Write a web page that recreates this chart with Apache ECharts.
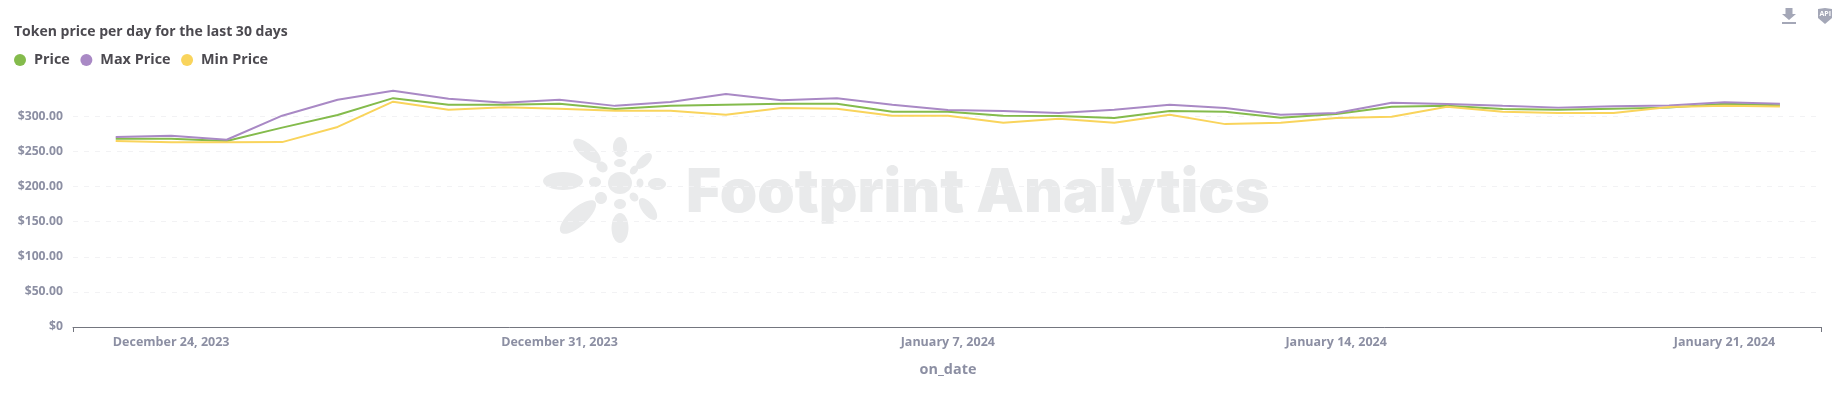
<!DOCTYPE html>
<html><head><meta charset="utf-8">
<style>html,body{margin:0;padding:0;background:#fff}#c{width:1848px;height:396px}</style>
<script src="https://cdn.jsdelivr.net/npm/echarts@6/dist/echarts.min.js"></script>
</head><body><div id="c"></div>
<script>
const startDate = '2023-12-23';
const priceValues = [268,268,265,284,302,326,316.6,316.6,318,310.5,315,316.6,318,318,306.6,306.6,301,300.5,297.6,307.6,306.6,298,303.3,313.8,315,310.5,309.5,311,312.5,318,316];
const maxValues = [270.5,272.5,266.7,301,323.7,336.6,325,319.5,323.7,315,320.4,331.8,323,326,316.6,309,307.6,304.7,309.5,316.6,312,302.4,304.7,319.5,317.6,315,312.5,314.5,315.5,320,318];
const minValues = [265,263,263,263.4,285,321,309.5,313,311,308,308,302.4,312,311,301,301,291,296.7,291,302.4,289,291,297.6,299.5,313.8,306.6,305,305,313.5,315,314];
const labelDates = ['2023-12-24','2023-12-31','2024-01-07','2024-01-14','2024-01-21'];
const DAY = 86400000;
const t0 = Date.parse(startDate + 'T00:00:00Z');
const dates = priceValues.map((_, i) => t0 + i * DAY);
const months = ['January','February','March','April','May','June','July','August','September','October','November','December'];
const fmt = v => { const d = new Date(v); return months[d.getUTCMonth()] + ' ' + d.getUTCDate() + ', ' + d.getUTCFullYear(); };
const pair = a => a.map((v, i) => [dates[i], v]);
const axisMin = t0 - 0.77 * DAY, axisMax = t0 + 30.74 * DAY;
const grey = '#e9eaeb';
const FONT = '"Open Sans","Noto Sans",sans-serif';
const chart = echarts.init(document.getElementById('c'), null, {renderer:'canvas'});
const line = (name, data, color) => ({name, type:'line', data:pair(data), symbol:'none', lineStyle:{color, width:2}, itemStyle:{color}, z:3});
// watermark logo: cx, cy, rx, ry, clockwise angle
const logo = [[587,151,17,7,40],[620,147,7,10,0],[644,161,10,5,-45],[563,181,20,9,0],[578,217,23,9,-42],[620,228,8.5,15,0],[648,209,13,6,53],[620,183,12,11,0],[657,184,9,6,0],[640,183,3.5,4.5,0],[595,182,6,5,0],[602,167,6,5,40],[620,163,6,4,0],[634,170,5,3.5,-50],[601,198,6,6,0],[620,204,6,5,0],[634,197,5,4,50]];
chart.setOption({
  animation:false,
  backgroundColor:'#fff',
  title:{text:'Token price per day for the last 30 days',left:14,top:25,padding:0,textStyle:{fontFamily:FONT,fontSize:14,fontWeight:700,color:'#4c4a50'}},
  legend:{left:14,top:53,padding:0,itemWidth:12,itemHeight:12,itemGap:10.5,icon:'circle',textStyle:{fontFamily:FONT,fontSize:14.4,fontWeight:700,color:'#4c4a50',padding:[0,0,0,3]},data:['Price','Max Price','Min Price']},
  grid:{left:73,right:27,top:81.3,bottom:69,containLabel:false},
  xAxis:{type:'value',min:axisMin,max:axisMax,name:'on_date',nameLocation:'middle',nameGap:36,
    nameTextStyle:{fontFamily:FONT,fontSize:14.4,fontWeight:700,color:'#8c8fa3',padding:[0,0,0,2]},
    axisLine:{show:true,onZero:false,lineStyle:{color:'#74767f',width:1}},
    axisTick:{show:true,length:5,lineStyle:{color:'#74767f'},customValues:[axisMin,axisMax]},
    axisLabel:{color:'#8c8fa3',fontFamily:FONT,fontSize:12.5,fontWeight:700,margin:9,
      customValues:labelDates.map(d=>Date.parse(d+'T00:00:00Z')),formatter:v=>fmt(v)},
    splitLine:{show:false}},
  yAxis:{type:'value',min:0,max:350,interval:50,
    axisLine:{show:false},axisTick:{show:false},
    axisLabel:{color:'#8c8fa3',fontFamily:FONT,fontSize:12.2,fontWeight:700,margin:10,showMaxLabel:false,padding:[3,0,0,0],
      formatter:v=>v===0?'$0':'$'+v.toFixed(2)},
    splitLine:{showMaxLine:false,lineStyle:{color:'#f2f2f4',type:[5,6],width:1}}},
  color:['#84bb4c','#a989c5','#f9d45c'],
  series:[line('Price',priceValues,'#84bb4c'),line('Max Price',maxValues,'#a989c5'),line('Min Price',minValues,'#f9d45c')],
  graphic:[
    {type:'text',left:686,top:164,silent:true,z:0,style:{text:'Footprint Analytics',fontFamily:'Inter,"Liberation Sans",sans-serif',fontSize:60,fontWeight:900,fill:grey}},
    ...logo.map(e=>({type:'ellipse',silent:true,z:0,shape:{cx:0,cy:0,rx:e[2],ry:e[3]},x:e[0],y:e[1],rotation:-e[4]*Math.PI/180,style:{fill:grey}})),
    {type:'polygon',silent:true,shape:{points:[[1785.5,8],[1792.5,8],[1792.5,14],[1796,14],[1789,20],[1782,14],[1785.5,14]]},style:{fill:'#a4a7b7'}},
    {type:'rect',silent:true,shape:{x:1782,y:22,width:14,height:2},style:{fill:'#a4a7b7'}},
    {type:'polygon',silent:true,shape:{points:[[1818,9],[1825,8],[1832,9],[1832,18],[1825,24],[1818,18]]},style:{fill:'#a4a7b7'}},
    {type:'text',x:1819.5,y:10,silent:true,style:{text:'API',fontFamily:FONT,fontSize:7,fontWeight:700,fill:'#fff'}}
  ]
});
</script></body></html>
